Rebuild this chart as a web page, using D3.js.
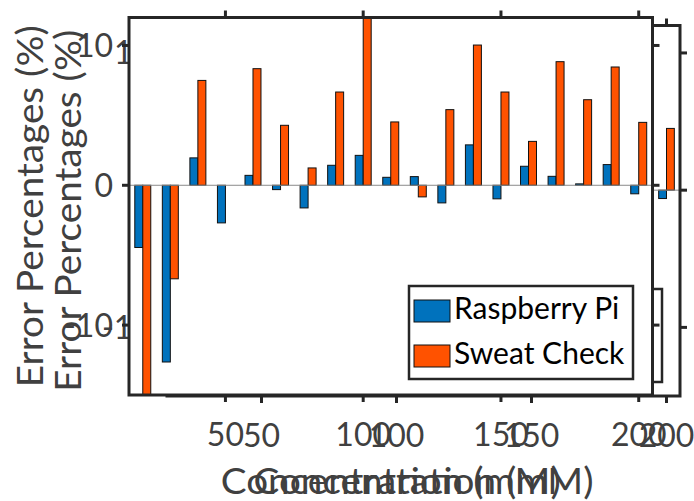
<!DOCTYPE html>
<html>
<head>
<meta charset="utf-8">
<script src="https://d3js.org/d3.v7.min.js"></script>
<style>
body { margin: 0; background: #fff; }
text { font-family: Lato, "Open Sans", sans-serif; }
</style>
</head>
<body>
<script>
var width = 694, height = 501;

// data
var concentrations = [20, 30, 40, 50, 60, 70, 80, 90, 100, 110, 120, 130, 140, 150, 160, 170, 180, 190, 200];
var piErrors = [-4.45, -12.64, 1.96, -2.69, 0.71, -0.31, -1.62, 1.43, 2.14, 0.57, 0.62, -1.26, 2.89, -0.97, 1.36, 0.64, 0.1, 1.48, -0.61];
var sweatErrors = [-16, -6.69, 7.5, 0, 8.34, 4.29, 1.24, 6.67, 12.5, 4.53, -0.83, 5.41, 10.03, 6.67, 3.14, 8.84, 6.12, 8.46, 4.5];
var seriesNames = ["Raspberry Pi", "Sweat Check"];
var xTicks = [50, 100, 150, 200];
var xTickLabels = ["50", "100", "150", "200"];
var yTicks = [-10, 0, 10];
var yTickLabels = ["-10", "0", "10"];

var blue = "#0072bd", orange = "#ff5200";
var axisCol = "#262626", textCol = "#404040";

var svg = d3.select("body").append("svg")
    .attr("width", width)
    .attr("height", height);

svg.append("rect").attr("width", width).attr("height", height).attr("fill", "#fff");

// the figure holds two copies of the same axes, one shifted behind the other
var backBox = {left: 167, right: 680, top: 25.5, bottom: 396, ylabX: 81, legX: 438, legY: 289};
var frontBox = {left: 129, right: 652.5, top: 17.5, bottom: 395, ylabX: 43, legX: 409, legY: 286};

function drawAxes(box, id) {
  var g = svg.append("g");
  var x = d3.scaleLinear().domain([15, 205]).range([box.left, box.right]);
  var y = d3.scaleLinear().domain([-15, 12]).range([box.bottom, box.top]);
  var barW = 2.9;
  var bw = x(barW) - x(0);

  g.append("clipPath").attr("id", id)
    .append("rect")
      .attr("x", box.left).attr("y", box.top)
      .attr("width", box.right - box.left)
      .attr("height", box.bottom - box.top);

  // white plot area, hides what is behind it
  g.append("rect")
    .attr("x", box.left).attr("y", box.top)
    .attr("width", box.right - box.left)
    .attr("height", box.bottom - box.top)
    .attr("fill", "#fff");

  var plot = g.append("g").attr("clip-path", "url(#" + id + ")");

  plot.selectAll("rect.pi").data(piErrors).join("rect")
    .attr("class", "pi")
    .attr("x", function(d, i) { return x(concentrations[i] - barW); })
    .attr("width", bw)
    .attr("y", function(d) { return y(Math.max(d, 0)); })
    .attr("height", function(d) { return Math.abs(y(d) - y(0)); })
    .attr("fill", blue)
    .attr("stroke", "#111").attr("stroke-width", 1);

  plot.selectAll("rect.sw").data(sweatErrors).join("rect")
    .attr("class", "sw")
    .attr("x", function(d, i) { return x(concentrations[i]); })
    .attr("width", bw)
    .attr("y", function(d) { return y(Math.max(d, 0)); })
    .attr("height", function(d) { return Math.abs(y(d) - y(0)); })
    .attr("fill", orange)
    .attr("stroke", "#111").attr("stroke-width", 1);

  // baseline
  plot.append("line")
    .attr("x1", box.left).attr("x2", box.right)
    .attr("y1", y(0)).attr("y2", y(0))
    .attr("stroke", "#8a8a8a").attr("stroke-width", 1);

  // ticks, pointing out
  var tl = 7;
  xTicks.forEach(function(t) {
    g.append("line").attr("x1", x(t)).attr("x2", x(t))
      .attr("y1", box.bottom).attr("y2", box.bottom + tl)
      .attr("stroke", axisCol).attr("stroke-width", 3);
    g.append("line").attr("x1", x(t)).attr("x2", x(t))
      .attr("y1", box.top).attr("y2", box.top - tl)
      .attr("stroke", axisCol).attr("stroke-width", 3);
  });
  yTicks.forEach(function(t) {
    g.append("line").attr("x1", box.left - tl).attr("x2", box.left)
      .attr("y1", y(t)).attr("y2", y(t))
      .attr("stroke", axisCol).attr("stroke-width", 3);
    g.append("line").attr("x1", box.right).attr("x2", box.right + tl)
      .attr("y1", y(t)).attr("y2", y(t))
      .attr("stroke", axisCol).attr("stroke-width", 3);
  });

  // frame
  g.append("rect")
    .attr("x", box.left).attr("y", box.top)
    .attr("width", box.right - box.left)
    .attr("height", box.bottom - box.top)
    .attr("fill", "none")
    .attr("stroke", axisCol).attr("stroke-width", 3);

  // tick labels
  g.selectAll("text.xt").data(xTicks).join("text")
    .attr("class", "xt")
    .attr("x", function(d) { return x(d); })
    .attr("y", box.bottom + 51)
    .attr("text-anchor", "middle")
    .attr("font-size", 32)
    .attr("fill", textCol)
    .text(function(d, i) { return xTickLabels[i]; });

  g.selectAll("text.yt").data(yTicks).join("text")
    .attr("class", "yt")
    .attr("x", box.left - 16)
    .attr("y", function(d) { return y(d) + 11.5; })
    .attr("text-anchor", "end")
    .attr("font-size", 32)
    .attr("fill", textCol)
    .text(function(d, i) { return yTickLabels[i]; });

  // axis labels
  g.append("text")
    .attr("x", (box.left + box.right) / 2)
    .attr("y", 494)
    .attr("text-anchor", "middle")
    .attr("font-size", 37)
    .attr("fill", textCol)
    .attr("textLength", 340)
    .attr("lengthAdjust", "spacingAndGlyphs")
    .text("Concentration (mM)");

  g.append("text")
    .attr("transform", "translate(" + box.ylabX + "," + ((box.top + box.bottom) / 2) + ") rotate(-90)")
    .attr("text-anchor", "middle")
    .attr("font-size", 37)
    .attr("fill", textCol)
    .attr("textLength", 362)
    .attr("lengthAdjust", "spacingAndGlyphs")
    .text("Error Percentages (%)");

  // legend
  var leg = g.append("g").attr("transform", "translate(" + box.legX + "," + box.legY + ")");
  leg.append("rect")
    .attr("width", 224).attr("height", 93)
    .attr("fill", "#fff")
    .attr("stroke", axisCol).attr("stroke-width", 2.5);
  [blue, orange].forEach(function(c, i) {
    leg.append("rect")
      .attr("x", 5).attr("y", 14 + i * 45)
      .attr("width", 36).attr("height", 22)
      .attr("fill", c)
      .attr("stroke", "#111").attr("stroke-width", 1);
    leg.append("text")
      .attr("x", 45).attr("y", 33 + i * 45)
      .attr("font-size", 30)
      .attr("fill", "#000")
      .text(seriesNames[i]);
  });
}

drawAxes(backBox, "clipBack");
drawAxes(frontBox, "clipFront");
</script>
</body>
</html>
